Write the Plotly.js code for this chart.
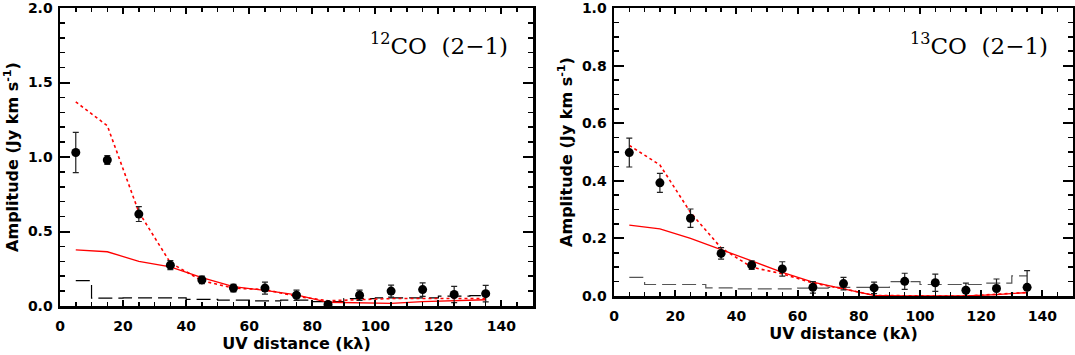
<!DOCTYPE html>
<html>
<head>
<meta charset="utf-8">
<script src="https://cdn.plot.ly/plotly-3.0.1.min.js"></script>
<style>
  html, body { margin: 0; padding: 0; background: #fff; }
  #plot { width: 1075px; height: 355px; }
</style>
</head>
<body>
<div id="plot"></div>
<script>
// uv bins (k lambda)
var uv = [5, 15, 25, 35, 45, 55, 65, 75, 85, 95, 105, 115, 125, 135];

// 12CO (2-1)
var co12Amp = [1.03, 0.98, 0.617, 0.274, 0.175, 0.12, 0.12, 0.072, 0.01, 0.072, 0.10, 0.11, 0.077, 0.083];
var co12Err = [0.135, 0.03, 0.05, 0.03, 0.025, 0.025, 0.04, 0.035, 0.02, 0.035, 0.04, 0.045, 0.055, 0.055];
var co12Model = [0.377, 0.364, 0.30, 0.262, 0.19, 0.13, 0.105, 0.075, 0.025, 0.02, 0.018, 0.03, 0.035, 0.042];
var co12Model2 = [1.37, 1.21, 0.63, 0.29, 0.17, 0.12, 0.11, 0.065, 0.035, 0.045, 0.05, 0.05, 0.05, 0.05];
var co12Noise = [0.17, 0.053, 0.055, 0.055, 0.045, 0.04, 0.035, 0.04, 0.03, 0.05, 0.055, 0.055, 0.066, 0.07];

// 13CO (2-1)
var co13Amp = [0.498, 0.393, 0.27, 0.148, 0.107, 0.094, 0.03, 0.043, 0.028, 0.051, 0.046, 0.02, 0.026, 0.03];
var co13Err = [0.05, 0.033, 0.032, 0.02, 0.015, 0.025, 0.02, 0.022, 0.02, 0.028, 0.03, 0.025, 0.033, 0.058];
var co13Model = [0.246, 0.233, 0.20, 0.162, 0.122, 0.082, 0.048, 0.025, 0.002, 0.0, 0.0, 0.0, 0.005, 0.012];
var co13Model2 = [0.523, 0.455, 0.29, 0.167, 0.10, 0.077, 0.045, 0.025, 0.002, 0.0, 0.0, 0.0, 0.005, 0.012];
var co13Noise = [0.065, 0.04, 0.04, 0.028, 0.025, 0.025, 0.027, 0.03, 0.03, 0.05, 0.04, 0.04, 0.045, 0.07];

var tickFont = { family: "DejaVu Sans", size: 14, color: "black", weight: "bold" };
var titleFont = { family: "DejaVu Sans", size: 16, color: "black", weight: "bold" };

function panel(amp, err, model, model2, noise, xa, ya, noiseColor) {
  return [
    { x: uv, y: noise, xaxis: xa, yaxis: ya, mode: "lines", line: { shape: "hvh", color: noiseColor, width: 1.2, dash: "14px,6px" }, hoverinfo: "skip" },
    { x: uv, y: model2, xaxis: xa, yaxis: ya, mode: "lines", line: { color: "red", width: 1.6, dash: "dot" } },
    { x: uv, y: model, xaxis: xa, yaxis: ya, mode: "lines", line: { color: "red", width: 1.3 } },
    {
      x: uv, y: amp, xaxis: xa, yaxis: ya, mode: "markers",
      marker: { color: "black", size: 9 },
      error_y: { type: "data", array: err, visible: true, color: "#222", thickness: 1.2, width: 3 }
    }
  ];
}

var data = panel(co12Amp, co12Err, co12Model, co12Model2, co12Noise, "x", "y", "black")
  .concat(panel(co13Amp, co13Err, co13Model, co13Model2, co13Noise, "x2", "y2", "#555"));

function xAxis(domain, anchor) {
  return {
    domain: domain, anchor: anchor, range: [0, 150], dtick: 20,
    showline: true, linewidth: 2.5, linecolor: "black", mirror: "allticks",
    ticks: "inside", ticklen: 6, tickwidth: 2, tickcolor: "black",
    minor: { dtick: 5, ticks: "inside", ticklen: 4, tickwidth: 1.5, tickcolor: "black" },
    showgrid: false, zeroline: false, tickfont: tickFont,
    ticklabelstandoff: 6, ticklabeloverflow: "allow",
    title: { text: "UV distance (kλ)", font: titleFont, standoff: 3 }
  };
}

function yAxis(domain, anchor, range, dtick, minorDtick, fmt) {
  return {
    domain: domain, anchor: anchor, range: range, dtick: dtick, tickformat: fmt,
    showline: true, linewidth: 2.5, linecolor: "black", mirror: "allticks",
    ticks: "inside", ticklen: 10, tickwidth: 2, tickcolor: "black",
    minor: { dtick: minorDtick, ticks: "inside", ticklen: 5, tickwidth: 1.5, tickcolor: "black" },
    showgrid: false, zeroline: false, tickfont: tickFont,
    ticklabelstandoff: 2, ticklabeloverflow: "allow",
    title: { text: "Amplitude (Jy km s<sup>-1</sup>)", font: titleFont, standoff: 6 }
  };
}

var layout = {
  width: 1075, height: 355,
  margin: { l: 0, r: 0, t: 0, b: 0 },
  paper_bgcolor: "white", plot_bgcolor: "white",
  showlegend: false,
  xaxis: xAxis([60 / 1075, 533 / 1075], "y"),
  yaxis: yAxis([1 - 306 / 355, 1 - 8 / 355], "x", [0, 2], 0.5, 0.1, ".1f"),
  xaxis2: xAxis([614 / 1075, 1073 / 1075], "y2"),
  yaxis2: yAxis([1 - 296 / 355, 1 - 8 / 355], "x2", [0, 1], 0.2, 0.05, ".1f"),
  annotations: [
    { xref: "paper", yref: "paper", x: 510 / 1075, y: 1 - 44 / 355, xanchor: "right", yanchor: "middle", showarrow: false,
      text: "<sup>12</sup>CO  (2−1)", font: { family: "DejaVu Serif", size: 23, color: "black" } },
    { xref: "paper", yref: "paper", x: 1050 / 1075, y: 1 - 44 / 355, xanchor: "right", yanchor: "middle", showarrow: false,
      text: "<sup>13</sup>CO  (2−1)", font: { family: "DejaVu Serif", size: 23, color: "black" } }
  ]
};

Plotly.newPlot("plot", data, layout, { staticPlot: true, displayModeBar: false });
</script>
</body>
</html>
